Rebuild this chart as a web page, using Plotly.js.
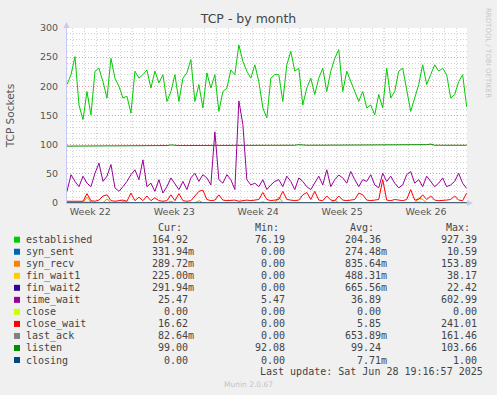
<!DOCTYPE html>
<html>
<head>
<meta charset="utf-8">
<script src="https://cdn.plot.ly/plotly-3.0.1.min.js"></script>
<style>html,body{margin:0;padding:0;background:#F0F0F0;}#chart{width:497px;height:395px;}</style>
</head>
<body>
<div id="chart"></div>
<script>
// ---- data (one sample every 8 hours) ----
const seriesNames = ['established','syn_sent','syn_recv','fin_wait1','fin_wait2','time_wait','close','close_wait','last_ack','listen','closing'];
const seriesColors = ['#00CC00','#0066B3','#FF8000','#FFCC00','#330099','#990099','#CCFF00','#FF0000','#808080','#008F00','#00487D'];

const established = [203,220,251,168,143,191,151,226,231,208,180,248,214,200,180,183,154,226,214,220,228,197,226,206,220,174,
191,220,174,214,223,246,174,203,163,223,197,220,157,191,197,228,220,271,243,226,214,237,208,163,146,214,220,
220,174,237,260,226,231,168,197,214,186,214,231,191,226,248,263,191,226,208,191,174,191,163,168,151,186,
163,231,180,191,226,231,197,157,180,203,237,203,220,237,226,231,220,180,186,208,220,165];

const syn_sent = [0.3,0.2,0.4,0.3,0.2,0.5,0.3,0.2,0.3,0.4,0.2,0.3,0.3,0.2,0.4,0.3,0.2,0.3,0.5,0.2,
0.3,0.2,0.3,0.4,0.2,0.3,0.3,0.2,0.4,0.3,0.2,0.3,0.3,0.5,0.2,0.3,0.2,0.3,0.4,0.2,
0.3,0.2,0.3,0.3,0.2,0.4,0.3,0.2,0.3,0.3,0.2,0.4,0.3,0.2,0.3,0.3,0.2,0.3,0.4,0.2,
0.3,0.2,0.3,0.3,0.2,0.4,0.3,0.2,0.3,0.3,0.2,0.3,0.4,0.2,0.3,0.3,0.2,0.3,0.3,0.4,
0.2,0.3,0.3,0.2,0.3,0.4,0.2,0.3,0.3,0.2,0.3,0.3,0.4,0.2,0.3,0.3,0.2,0.3,0.3,0.2,0.3];

const syn_recv = [0.3,0.5,0.3,0.8,0.4,10,1.5,0.3,0.4,0.6,
7,0.5,0.3,0.4,0.6,0.3,1,0.4,0.5,0.3,
0.6,0.3,0.4,0.5,0.3,0.4,3,0.5,0.3,0.4,
0.3,0.5,0.4,4,0.6,0.3,0.4,0.5,0.3,0.4,
0.3,0.4,0.6,0.3,0.5,0.4,0.3,0.5,0.4,2,
0.4,0.3,0.6,10,1.2,0.4,0.3,0.5,0.4,0.3,
0.5,0.4,0.3,0.6,0.4,0.3,0.5,5,0.4,0.3,
0.4,0.5,0.3,0.4,0.6,0.3,0.4,0.5,0.3,0.6,
0.4,0.3,0.5,0.4,0.3,0.6,0.4,0.3,9,6,
0.5,0.3,0.4,0.6,0.3,0.4,0.5,0.3,0.4,0.3,0.3];

const fin_wait1 = [0.4,0.5,0.3,0.6,0.4,1.5,0.5,0.4,0.3,0.5,0.6,0.4,0.5,0.3,0.4,0.5,0.6,0.4,0.3,0.5,
0.4,0.5,0.6,0.3,0.4,0.5,0.4,0.3,0.6,0.5,0.4,0.3,0.5,0.6,0.4,0.5,0.3,0.4,0.5,0.4,
0.6,0.3,0.5,0.4,0.5,0.3,0.4,0.6,0.5,0.4,0.3,0.5,0.4,1.8,0.5,0.4,0.3,0.6,0.4,0.5,
0.4,0.3,0.5,0.6,0.4,0.5,0.3,0.4,0.5,0.6,0.4,0.3,0.5,0.4,0.6,0.5,0.3,0.4,0.5,0.4,
0.3,0.6,0.5,0.4,0.3,0.5,0.4,0.6,2.2,0.5,0.4,0.3,0.5,0.4,0.6,0.3,0.5,0.4,0.3,0.4,0.2];

const fin_wait2 = [0.6,0.8,0.5,0.7,0.9,0.6,1.2,0.7,0.5,0.8,0.6,0.9,0.7,0.5,1.5,0.6,0.8,0.7,0.5,0.6,
0.9,0.7,0.6,0.8,0.5,0.7,0.6,0.9,1.3,0.6,0.7,0.5,0.8,0.6,0.7,0.9,0.5,0.6,0.8,0.7,
0.6,0.5,0.9,0.7,0.6,0.8,0.5,0.7,0.6,1.4,0.7,0.5,0.8,0.6,0.9,0.7,0.5,0.6,0.8,0.7,
0.6,0.9,0.5,0.7,0.6,0.8,0.7,0.5,0.6,0.9,0.7,0.6,0.8,1.6,0.5,0.7,0.6,0.8,0.7,0.5,
0.6,0.9,0.7,0.6,0.5,0.8,0.7,0.6,0.9,0.5,0.7,0.6,0.8,0.7,0.5,0.6,0.8,0.7,0.6,0.5,0.3];

const time_wait = [20,48.5,37,28,46,34,28,51,68.5,37,46,66,26,20,28,37,48.5,57,40,74,28,34,20,40,17,28,43,34,23,37,23,43,51,37,
48.5,43,31,122,40,34,48.5,40,23,175,135,40,31,34,28,40,23,31,37,40,28,46,37,23,43,37,28,23,34,46,31,57,28,40,48,
43,34,54,40,28,40,37,48.5,31,26,51,37,46,34,26,31,48.5,54,34,40,28,46,37,28,34,43,28,31,37,51,34,25];

const close = [0,0,0,0,0,0,0,0,0,0,0,0,0,0,0,0,0,0,0,0,
0,0,0,0,0,0,0,0,0,0,0,0,0,0,0,0,0,0,0,0,
0,0,0,0,0,0,0,0,0,0,0,0,0,0,0,0,0,0,0,0,
0,0,0,0,0,0,0,0,0,0,0,0,0,0,0,0,0,0,0,0,
0,0,0,0,0,0,0,0,0,0,0,0,0,0,0,0,0,0,0,0,0];

const close_wait = [3,3,3,4,3,16,4,3,5,12,
14,4,3,4,5,3,17,4,10,4,
12,4,9,4,3,4,14,4,16,4,
3,4,12,20,22,6,4,5,14,5,
4,4,5,3,4,5,4,5,6,18,
6,4,5,6,20,6,5,4,5,14,
18,6,20,5,4,12,5,4,12,5,
4,5,6,17,14,5,4,5,6,40,
5,4,6,5,4,6,23,5,6,14,
6,12,5,4,4,5,6,12,5,4,17];

const last_ack = [0.6,0.5,0.7,0.4,0.6,0.8,0.5,0.6,0.4,0.7,0.5,0.6,0.8,0.4,0.5,0.6,0.7,0.5,0.4,0.6,
0.5,0.7,0.6,0.4,0.5,0.6,0.8,0.5,0.6,0.4,0.7,0.5,0.6,0.5,0.4,0.6,0.7,0.5,0.6,0.4,
0.5,0.6,0.7,0.5,0.4,0.6,0.5,0.8,0.6,0.4,0.5,0.7,0.6,0.5,0.4,0.6,0.5,0.7,0.6,0.4,
0.5,0.6,0.5,0.7,0.4,0.6,0.5,0.6,0.8,0.5,0.4,0.6,0.7,0.5,0.6,0.4,0.5,0.6,0.7,0.5,
0.4,0.6,0.5,0.7,0.6,0.4,0.5,0.6,0.5,0.7,0.4,0.6,0.5,0.6,0.4,0.7,0.5,0.6,0.4,0.5,0.1];

const listen = [97.5,97.5,97.5,97.5,97.5,
98.5,98.5,98.5,98.5,98.5,98.5,98.5,98.5,98.5,98.5,98.5,98.5,98.5,98.5,98.5,98.5,98.5,98.5,98.5,98.5,98.5,
99.5,
98.5,98.5,98.5,98.5,98.5,98.5,98.5,98.5,98.5,98.5,98.5,
99.5,
98.5,98.5,98.5,98.5,98.5,98.5,98.5,
99,99,99,99,99,99,99,99,99,99,99,99,
100,
99,99,99,99,99,99,99,99,99,
100,100,100,100,100,100,100,100,100,100,100,100,100,100,100,100,100,100,100,100,100,100,100,
101,
99,99,99,99,99,99,99,99,99];

const closing = [0,0,0,0,0,0,0,0,0,0,0,0,0,0,0,0,0,0,0,0,
0,0,0,0,0,0,0,0,0,0,0,0,0,0,0,0,0,0,0,0,
0,0,0,0,0,0,0,0,0,0,0,0,0,0,0,0,0,0,0,0,
0,0,0,0,0,0,0,0,0,0,0,0,0,0,0,0,0,0,0,0,
0,0,0,0,0,0,0,0,0,0,0,0,0,0,0,0,0,0,0,0,0];

const curVals = ['164.92','331.94m','289.72m','225.00m','291.94m','25.47','0.00','16.62','82.64m','99.00','0.00'];
const minVals = ['76.19','0.00','0.00','0.00','0.00','5.47','0.00','0.00','0.00','92.08','0.00'];
const avgVals = ['204.36','274.48m','835.64m','488.31m','665.56m','36.89','0.00','5.85','653.89m','99.24','7.71m'];
const maxVals = ['927.39','10.59','153.89','38.17','22.42','602.99','0.00','241.01','161.46','103.66','1.00'];
const colHeaders = ['Cur:','Min:','Avg:','Max:'];

const weekLabels = ['Week 22','Week 23','Week 24','Week 25','Week 26'];
const weekCenters = ['2025-05-28 12:00','2025-06-04 12:00','2025-06-11 12:00','2025-06-18 12:00','2025-06-25 12:00'];
const weekStarts = ['2025-06-01','2025-06-08','2025-06-15','2025-06-22'];

// ---- chart ----
const START = Date.UTC(2025, 4, 26, 13, 18);
const STEP = 8 * 3600 * 1000;
const allSeries = [established, syn_sent, syn_recv, fin_wait1, fin_wait2, time_wait, close, close_wait, last_ack, listen, closing];
const times = established.map((_, i) => START + i * STEP);

const traces = allSeries.map((vals, i) => ({
  type: 'scatter', mode: 'lines', name: seriesNames[i],
  x: times, y: vals, line: {color: seriesColors[i], width: 1}, hoverinfo: 'skip'
}));

const W = 497, H = 395, ML = 67, MR = 30, MT = 28, MB = 192;
const PW = W - ML - MR, PH = H - MT - MB;
const px = v => (v - ML) / PW;
const py = v => (H - MB - v) / PH;

const mono = {family: 'DejaVu Sans Mono', size: 10, color: '#444'};
const annotations = [];
const shapes = [];

weekStarts.forEach(d => shapes.push({type: 'line', xref: 'x', yref: 'paper', x0: d, x1: d, y0: 0, y1: 1,
  line: {color: '#EE9C9C', width: 1, dash: '1px,2px'}, layer: 'below'}));

// axis arrows
shapes.push({type: 'path', xref: 'paper', yref: 'paper',
  path: `M ${px(467)} ${py(200)} L ${px(473)} ${py(203)} L ${px(467)} ${py(206)} Z`,
  fillcolor: '#C8C8F4', line: {width: 0}});
shapes.push({type: 'path', xref: 'paper', yref: 'paper',
  path: `M ${px(63.5)} ${py(28)} L ${px(66.5)} ${py(22)} L ${px(69.5)} ${py(28)} Z`,
  fillcolor: '#C8C8F4', line: {width: 0}});

const rowY0 = 239.7, rowStep = 12.03, charW = 6.02;
const colEnds = [188, 285, 380.7, 476.7];
const colCenters = [170, 266.5, 362, 458.3];
const cols = [curVals, minVals, avgVals, maxVals];

colHeaders.forEach((h, j) => annotations.push({xref: 'paper', yref: 'paper', x: px(colCenters[j]), y: py(rowY0 - rowStep),
  text: h, showarrow: false, xanchor: 'center', yanchor: 'middle', font: mono, borderpad: 0, borderwidth: 0}));

seriesNames.forEach((n, i) => {
  const yy = rowY0 + i * rowStep;
  shapes.push({type: 'rect', xref: 'paper', yref: 'paper', x0: px(14), x1: px(20), y0: py(yy + 3), y1: py(yy - 3),
    fillcolor: seriesColors[i], line: {width: 0}});
  annotations.push({xref: 'paper', yref: 'paper', x: px(26.3), y: py(yy), text: n, showarrow: false,
    xanchor: 'left', yanchor: 'middle', font: mono, borderpad: 0, borderwidth: 0});
  cols.forEach((c, j) => {
    const s = c[i];
    const end = colEnds[j] + (s.endsWith('m') ? charW : 0);
    annotations.push({xref: 'paper', yref: 'paper', x: px(end), y: py(yy), text: s, showarrow: false,
      xanchor: 'right', yanchor: 'middle', font: mono, borderpad: 0, borderwidth: 0});
  });
});

annotations.push({xref: 'paper', yref: 'paper', x: px(482.7), y: py(371.7), text: 'Last update: Sat Jun 28 19:16:57 2025',
  showarrow: false, xanchor: 'right', yanchor: 'middle', font: mono, borderpad: 0, borderwidth: 0});
annotations.push({xref: 'paper', yref: 'paper', x: px(248), y: py(384.3), text: 'Munin 2.0.67',
  showarrow: false, xanchor: 'center', yanchor: 'middle', font: {family: 'DejaVu Sans', size: 7.5, color: '#C4C4C4'}, borderpad: 0, borderwidth: 0});
annotations.push({xref: 'paper', yref: 'paper', x: px(488), y: py(53), text: 'RRDTOOL / TOBI OETIKER', textangle: 90,
  showarrow: false, xanchor: 'center', yanchor: 'middle', font: {family: 'DejaVu Sans', size: 7, color: '#C8C8C8'}, borderpad: 0, borderwidth: 0});

const layout = {
  width: W, height: H,
  paper_bgcolor: '#F0F0F0', plot_bgcolor: '#FFFFFF',
  margin: {l: ML, r: MR, t: MT, b: MB, pad: 0},
  showlegend: false,
  font: {family: 'DejaVu Sans', size: 9.5, color: '#555'},
  title: {text: 'TCP - by month', font: {family: 'DejaVu Sans', size: 12.5, color: '#444'},
    x: 0.5, xanchor: 'center', xref: 'container', y: 1 - 19 / H, yanchor: 'middle', yref: 'container'},
  xaxis: {type: 'date', range: ['2025-05-26 13:18', '2025-06-28 22:00'], tickmode: 'array',
    tickvals: weekCenters, ticktext: weekLabels, showgrid: false, ticks: '', zeroline: false,
    showline: true, linecolor: '#C8C8F4', linewidth: 1, fixedrange: true,
    tickfont: {family: 'DejaVu Sans', size: 9.5, color: '#555'},
    minor: {tickmode: 'linear', tick0: '2025-06-01', dtick: 86400000, showgrid: true,
      gridcolor: '#D2D2D2', griddash: '1px,2px', gridwidth: 1, ticks: ''}},
  yaxis: {range: [0, 300], tickmode: 'linear', tick0: 0, dtick: 50, showgrid: true,
    gridcolor: '#EE9C9C', griddash: '1px,2px', gridwidth: 1, zeroline: false,
    showline: true, linecolor: '#C8C8F4', linewidth: 1, ticks: '', ticklabelstandoff: 6, fixedrange: true,
    tickfont: {family: 'DejaVu Sans', size: 9.5, color: '#555'},
    minor: {tickmode: 'linear', tick0: 0, dtick: 10, showgrid: true, gridcolor: '#D2D2D2', griddash: '1px,2px', gridwidth: 1, ticks: ''},
    title: {text: 'TCP Sockets', font: {family: 'DejaVu Sans', size: 10.5, color: '#555'}, standoff: 23}},
  shapes: shapes,
  annotations: annotations
};

Plotly.newPlot('chart', traces, layout, {displayModeBar: false, staticPlot: true});
</script>
</body>
</html>
